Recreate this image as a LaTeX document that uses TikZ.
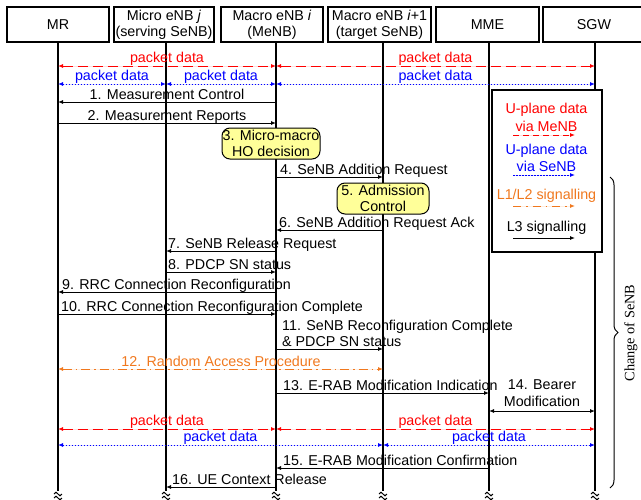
\documentclass[tikz,border=0pt]{standalone}
\usepackage{fontspec}
\setmainfont{Liberation Sans}
\newfontfamily\serifb{Liberation Serif}
\usetikzlibrary{arrows.meta,decorations.pathreplacing,calc}
\definecolor{pdred}{RGB}{255,0,0}
\definecolor{pdblue}{RGB}{0,0,255}
\definecolor{sigorange}{RGB}{240,120,30}
\definecolor{hoyellow}{RGB}{255,255,153}
\tikzset{mytip/.tip={Latex[length=5pt,width=4pt]}}
\begin{document}
\begin{tikzpicture}[x=1pt,y=-1pt,
  font=\fontsize{14.3}{16}\selectfont,
  hdr/.style={draw,line width=1.1pt,fill=white,minimum height=35pt,inner sep=0pt,align=center},
  life/.style={line width=1.2pt},
  msg/.style={line width=0.9pt,-mytip},
  both/.style={line width=0.9pt,mytip-mytip},
  menb/.style={draw=pdred,fill=pdred,dash pattern=on 10pt off 5pt},
  senb/.style={draw=pdblue,fill=pdblue,dash pattern=on 1.6pt off 1.4pt},
  lonel/.style={draw=sigorange,fill=sigorange,dash pattern=on 9pt off 4pt on 1.5pt off 4pt},
  lab/.style={anchor=base west,inner sep=0pt},
  clab/.style={anchor=base,inner sep=0pt},
  decision/.style={draw,line width=1pt,fill=hoyellow,rounded corners=8pt,align=center,inner sep=0pt,minimum height=31pt},
  squig/.style={line width=1pt}
]
\useasboundingbox (0,0) rectangle (641,499);

% lifeline coordinates
\coordinate (mrT) at (58,42);   \coordinate (mrB) at (58,491);
\coordinate (micT) at (166,42); \coordinate (micB) at (166,491);
\coordinate (macT) at (276,42); \coordinate (macB) at (276,491);
\coordinate (tgtT) at (383,42); \coordinate (tgtB) at (383,491);
\coordinate (mmeT) at (489,42); \coordinate (mmeB) at (489,491);
\coordinate (sgwT) at (595,42); \coordinate (sgwB) at (595,491);

\foreach \n in {mr,mic,mac,tgt,mme,sgw}{
  \draw[life] (\n T) -- (\n B);
  \draw[squig] ($(\n B)+(-4,3)$) sin ++(2,-1.8) cos ++(2,1.8) sin ++(2,1.8) cos ++(2,-1.8);
  \draw[squig] ($(\n B)+(-4,7)$) sin ++(2,-1.8) cos ++(2,1.8) sin ++(2,1.8) cos ++(2,-1.8);
}

% headers
\node[hdr,minimum width=102pt] (hmr) at (58,24.5) {MR};
\node[hdr,minimum width=100pt] (hmic) at (164,24.5) {Micro eNB \textit{j}\\(serving SeNB)};
\node[hdr,minimum width=102pt] (hmac) at (272,24.5) {Macro eNB \textit{i}\\(MeNB)};
\node[hdr,minimum width=103pt] (htgt) at (379.5,24.5) {Macro eNB \textit{i}+1\\(target SeNB)};
\node[hdr,minimum width=103pt] (hmme) at (487.5,24.5) {MME};
\node[hdr,minimum width=102pt] (hsgw) at (594,24.5) {SGW};

% packet data (top)
\draw[both,menb] (mrT|-0,66) -- (macT|-0,66);
\draw[both,menb] (macT|-0,66) -- (sgwT|-0,66);
\node[clab,text=pdred] (pd1) at (167,62.5) {packet data};
\node[clab,text=pdred] (pd2) at (435.5,62.5) {packet data};
\draw[both,senb] (mrT|-0,84) -- (micT|-0,84);
\draw[both,senb] (micT|-0,84) -- (macT|-0,84);
\draw[both,senb] (macT|-0,84) -- (sgwT|-0,84);
\node[clab,text=pdblue] (pd3) at (112,80.5) {packet data};
\node[clab,text=pdblue] (pd4) at (221,80.5) {packet data};
\node[clab,text=pdblue] (pd5) at (435.5,80.5) {packet data};

% messages
\draw[msg] (macT|-0,102) -- (mrT|-0,102);
\node[clab] (l1) at (167,99) {1. Measurement Control};
\draw[msg] (mrT|-0,123) -- (macT|-0,123);
\node[clab] (l2) at (167,120) {2. Measurement Reports};
\draw[msg] (macT|-0,177) -- (tgtT|-0,177);
\node[lab] (l4) at (280,174) {4. SeNB Addition Request};
\draw[msg] (tgtT|-0,230) -- (macT|-0,230);
\node[lab] (l6) at (279,227) {6. SeNB Addition Request Ack};
\draw[msg] (macT|-0,251) -- (micT|-0,251);
\node[lab] (l7) at (168,248) {7. SeNB Release Request};
\draw[msg] (micT|-0,272) -- (macT|-0,272);
\node[lab] (l8) at (168,269) {8. PDCP SN status};
\draw[msg] (macT|-0,292) -- (mrT|-0,292);
\node[lab] (l9) at (62,289) {9. RRC Connection Reconfiguration};
\draw[msg] (mrT|-0,314) -- (macT|-0,314);
\node[lab] (l10) at (61,311) {10. RRC Connection Reconfiguration Complete};
\draw[msg] (macT|-0,349) -- (tgtT|-0,349);
\node[lab] (l11a) at (282,330.5) {11. SeNB Reconfiguration Complete};
\node[lab] (l11b) at (282,346) {\& PDCP SN status};
\draw[both,lonel] (mrT|-0,369) -- (tgtT|-0,369);
\node[clab,text=sigorange] (l12) at (221,366) {12. Random Access Procedure};
\draw[msg] (macT|-0,393) -- (mmeT|-0,393);
\node[lab] (l13) at (283,390) {13. E-RAB Modification Indication};
\draw[both] (mmeT|-0,411) -- (sgwT|-0,411);
\node[clab] (l14a) at (542,389) {14. Bearer};
\node[clab] (l14b) at (542,406) {Modification};

% packet data (bottom)
\draw[both,menb] (mrT|-0,429) -- (macT|-0,429);
\draw[both,menb] (macT|-0,429) -- (sgwT|-0,429);
\node[clab,text=pdred] (pd6) at (167,425.5) {packet data};
\node[clab,text=pdred] (pd7) at (435.5,425.5) {packet data};
\draw[both,senb] (mrT|-0,445) -- (tgtT|-0,445);
\draw[both,senb] (tgtT|-0,445) -- (sgwT|-0,445);
\node[clab,text=pdblue] (pd8) at (220.5,441.5) {packet data};
\node[clab,text=pdblue] (pd9) at (489,441.5) {packet data};

\draw[msg] (mmeT|-0,468) -- (macT|-0,468);
\node[lab] (l15) at (283,465) {15. E-RAB Modification Confirmation};
\draw[msg] (macT|-0,487) -- (micT|-0,487);
\node[lab] (l16) at (172,484) {16. UE Context Release};

% decision boxes
\node[decision,minimum width=98pt] (d3) at (271,143.5) {3. Micro-macro\\HO decision};
\node[decision,minimum width=92pt] (d5) at (383,198.5) {5. Admission\\Control};

% legend
\node[draw,line width=1.1pt,fill=white,minimum width=110pt,minimum height=162pt,inner sep=0pt] (legend) at (547,171) {};
\node[clab,text=pdred] (lg1) at (546.5,113) {U-plane data};
\node[clab,text=pdred] (lg2) at (546.5,131) {via MeNB};
\coordinate (lga1) at (513,135); \coordinate (lgb1) at (575,135);
\draw[msg,menb,dash pattern=on 6pt off 4pt] (lga1) -- (lgb1);
\node[clab,text=pdblue] (lg3) at (546.5,154) {U-plane data};
\node[clab,text=pdblue] (lg4) at (546.5,171) {via SeNB};
\coordinate (lga2) at (513,175); \coordinate (lgb2) at (575,175);
\draw[msg,senb] (lga2) -- (lgb2);
\node[clab,text=sigorange] (lg5) at (546.5,199) {L1/L2 signalling};
\coordinate (lga3) at (513,206); \coordinate (lgb3) at (575,206);
\draw[msg,lonel,dash pattern=on 8pt off 5pt on 1.5pt off 5pt] (lga3) -- (lgb3);
\node[clab] (lg6) at (546.5,231) {L3 signalling};
\coordinate (lga4) at (513,238); \coordinate (lgb4) at (575,238);
\draw[msg] (lga4) -- (lgb4);

% brace
\coordinate (brT) at (610,177); \coordinate (brB) at (610,488);
\draw[line width=1pt,decorate,decoration={brace,amplitude=8pt}] (brT) -- (brB);
\node[rotate=90,inner sep=0pt,font=\serifb\fontsize{14.3}{16}\selectfont] (chg) at (631,333) {Change of SeNB};
\end{tikzpicture}
\end{document}
